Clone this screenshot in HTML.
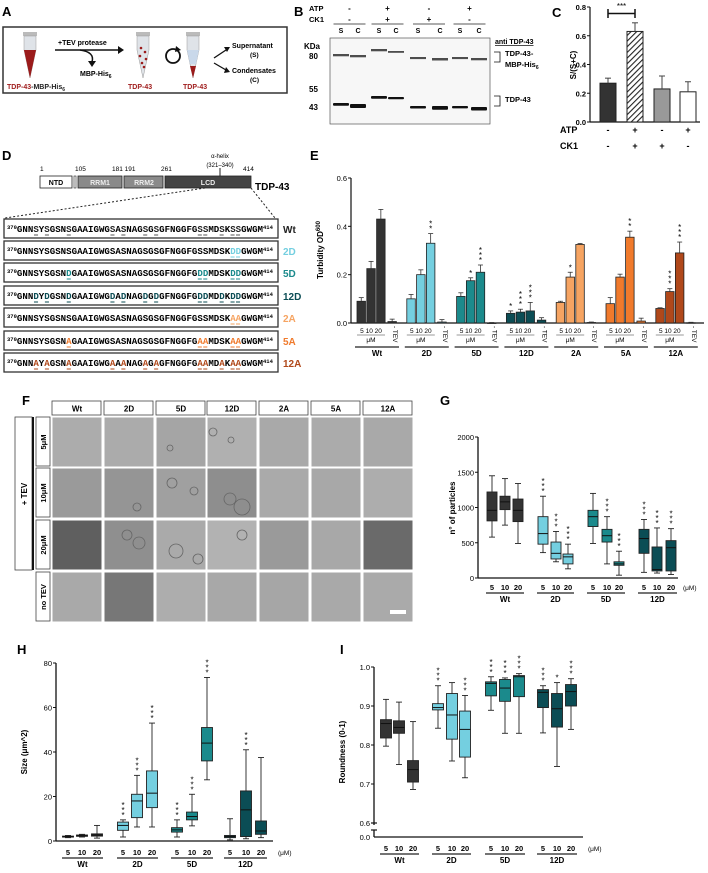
<!DOCTYPE html>
<html><head><meta charset="utf-8">
<style>
html,body{margin:0;padding:0;background:#fff;}
svg{display:block;font-family:"Liberation Sans",Arial,sans-serif;}
</style></head>
<body>
<svg id="fig" width="708" height="873" viewBox="0 0 708 873" xmlns="http://www.w3.org/2000/svg">
<!-- Panel A -->
<g>
<text x="2" y="16" font-size="13" font-weight="bold">A</text>
<rect x="3" y="27" width="284" height="66" fill="#fff" stroke="#333" stroke-width="1.5"/>
<g><rect x="23" y="32" width="14" height="4" fill="#bbb"/><path d="M24 36 L36 36 L36 50 L30 78 L24 50 Z" fill="#dfe3e8" stroke="#999" stroke-width="0.5"/><path d="M24 50 L36 50 L30 78 Z" fill="#9b1b1b"/></g>
<text x="7" y="89" font-size="7" fill="#a01e1e" font-weight="bold">TDP-43<tspan fill="#222">-MBP-His</tspan><tspan fill="#222" font-size="5" dy="2">6</tspan></text>
<text x="58" y="45" font-size="7" font-weight="bold">+TEV protease</text>
<line x1="55" y1="50" x2="118" y2="50" stroke="#111" stroke-width="1.5"/><path d="M118 46 L124 50 L118 54Z" fill="#111"/>
<path d="M80 50 Q95 52 92 62" fill="none" stroke="#111" stroke-width="1.5"/><path d="M88 61 L92 67 L96 61Z" fill="#111"/>
<text x="80" y="76" font-size="7" font-weight="bold">MBP-His<tspan font-size="5" dy="2">6</tspan></text>
<g><rect x="136" y="32" width="14" height="4" fill="#bbb"/><path d="M137 36 L149 36 L149 50 L143 78 L137 50 Z" fill="#dfe3e8" stroke="#999" stroke-width="0.5"/><circle cx="141" cy="48" r="1.3" fill="#9b1b1b"/><circle cx="145" cy="52" r="1.3" fill="#9b1b1b"/><circle cx="140" cy="56" r="1.3" fill="#9b1b1b"/><circle cx="146" cy="59" r="1.3" fill="#9b1b1b"/><circle cx="142" cy="63" r="1.3" fill="#9b1b1b"/><circle cx="144" cy="67" r="1.3" fill="#9b1b1b"/></g>
<text x="128" y="89" font-size="7" fill="#a01e1e" font-weight="bold">TDP-43</text>
<circle cx="173" cy="56" r="7" fill="none" stroke="#111" stroke-width="1.8"/><path d="M176 46 L181 50 L175 52Z" fill="#111"/>
<g><rect x="186" y="32" width="14" height="4" fill="#bbb"/><path d="M187 36 L199 36 L199 50 L193 78 L187 50 Z" fill="#dfe3e8" stroke="#999" stroke-width="0.5"/><path d="M187 50 L199 50 L196 64 L190 64 Z" fill="#c9d8ea"/><path d="M190 66 L196 66 L193 78Z" fill="#9b1b1b"/></g>
<text x="183" y="89" font-size="7" fill="#a01e1e" font-weight="bold">TDP-43</text>
<line x1="214" y1="58" x2="226" y2="50" stroke="#111" stroke-width="1.3"/><path d="M224 47 L230 47 L227 52Z" fill="#111"/>
<line x1="214" y1="63" x2="226" y2="70" stroke="#111" stroke-width="1.3"/><path d="M224 73 L230 72 L226 67Z" fill="#111"/>
<text x="232" y="48" font-size="7" font-weight="bold">Supernatant</text><text x="250" y="57" font-size="6.5" font-weight="bold">(S)</text>
<text x="232" y="73" font-size="7" font-weight="bold">Condensates</text><text x="250" y="82" font-size="6.5" font-weight="bold">(C)</text>
</g>
<!-- Panel B -->
<g id="panelB">
<text x="294" y="16" font-size="13" font-weight="bold">B</text>
<text x="309" y="11" font-size="7.5" font-weight="bold">ATP</text>
<text x="309" y="22" font-size="7.5" font-weight="bold">CK1</text>
<rect x="330" y="38" width="160" height="86" fill="#f7f7f7" stroke="#555" stroke-width="0.7"/>
<text x="304" y="49" font-size="8" font-weight="bold">KDa</text>
<text x="309" y="59" font-size="8" font-weight="bold">80</text>
<text x="309" y="92" font-size="8" font-weight="bold">55</text>
<text x="309" y="110" font-size="8" font-weight="bold">43</text>
<text x="495" y="44" font-size="7" font-weight="bold" text-decoration="underline">anti TDP-43</text>
<text x="505" y="56" font-size="7.5" font-weight="bold">TDP-43-</text>
<text x="505" y="67" font-size="7.5" font-weight="bold">MBP-His<tspan font-size="5" dy="2">6</tspan></text>
<path d="M494 52 L500 52 L500 62 L494 62" fill="none" stroke="#111" stroke-width="0.8"/>
<text x="505" y="102" font-size="7.5" font-weight="bold">TDP-43</text>
<path d="M494 96 L500 96 L500 106 L494 106" fill="none" stroke="#111" stroke-width="0.8"/>
</g>
<!-- Panel C -->
<g id="panelC">
<text x="552" y="17" font-size="13" font-weight="bold">C</text>
<text transform="translate(576,65) rotate(-90)" font-size="8" font-weight="bold" text-anchor="middle">S/(S+C)</text>
</g>
<!-- Panel D -->
<g id="panelD">
<text x="2" y="160" font-size="13" font-weight="bold">D</text>
<text x="40" y="171" font-size="6.5">1</text><text x="75" y="171" font-size="6.5">105</text><text x="112" y="171" font-size="6.5">181 191</text><text x="161" y="171" font-size="6.5">261</text><text x="243" y="171" font-size="6.5">414</text>
<text x="220" y="158" font-size="6" text-anchor="middle">α-helix</text><text x="220" y="167" font-size="6" text-anchor="middle">(321–340)</text>
<line x1="220" y1="168" x2="220" y2="176" stroke="#222"/>
<rect x="40" y="176" width="32" height="12" fill="#fff" stroke="#222" stroke-width="0.8"/>
<text x="56" y="185" font-size="7" font-weight="bold" text-anchor="middle">NTD</text>
<rect x="74" y="176" width="2" height="12" fill="#fff" stroke="#222" stroke-width="0.6"/>
<rect x="78" y="176" width="44" height="12" fill="#8a8a8a" stroke="#222" stroke-width="0.8"/>
<text x="100" y="185" font-size="7" font-weight="bold" fill="#eee" text-anchor="middle">RRM1</text>
<rect x="124" y="176" width="39" height="12" fill="#8a8a8a" stroke="#222" stroke-width="0.8"/>
<text x="144" y="185" font-size="7" font-weight="bold" fill="#eee" text-anchor="middle">RRM2</text>
<rect x="165" y="176" width="86" height="12" fill="#444" stroke="#222" stroke-width="0.8"/>
<text x="208" y="185" font-size="7" font-weight="bold" fill="#eee" text-anchor="middle">LCD</text>
<text x="255" y="190" font-size="10" font-weight="bold">TDP-43</text>
<line x1="205" y1="188" x2="5" y2="218" stroke="#222" stroke-dasharray="2,2"/>
<line x1="251" y1="188" x2="275" y2="218" stroke="#222" stroke-dasharray="2,2"/>
</g>
<!-- Panel E -->
<g id="panelE">
<text x="310" y="160" font-size="13" font-weight="bold">E</text>
<text transform="translate(323,250) rotate(-90)" font-size="8" font-weight="bold" text-anchor="middle">Turbidity OD<tspan font-size="6" dy="-3">600</tspan></text>
</g>
<!-- Panel F -->
<g id="panelF">
<text x="22" y="405" font-size="13" font-weight="bold">F</text>
<rect x="15" y="417" width="17" height="153" fill="#fff" stroke="#444" stroke-width="0.8"/>
<line x1="33" y1="417" x2="33" y2="570" stroke="#111" stroke-width="2"/>
<text transform="translate(27,494) rotate(-90)" font-size="8" font-weight="bold" text-anchor="middle">+ TEV</text>
</g>
<!-- Panels G/H/I -->
<g id="panelG">
<text x="440" y="405" font-size="13" font-weight="bold">G</text>
<text transform="translate(455,508) rotate(-90)" font-size="8" font-weight="bold" text-anchor="middle">n° of particles</text>
</g>
<g id="panelH">
<text x="17" y="654" font-size="13" font-weight="bold">H</text>
<text transform="translate(27,752) rotate(-90)" font-size="8" font-weight="bold" text-anchor="middle">Size (μm^2)</text>
</g>
<g id="panelI">
<text x="340" y="654" font-size="13" font-weight="bold">I</text>
<text transform="translate(345,752) rotate(-90)" font-size="8" font-weight="bold" text-anchor="middle">Roundness (0-1)</text>
</g>
</svg>
<script>
// ---------- data ----------
const cLabels=['ATP','CK1'];
const cValues=[0.27,0.63,0.23,0.21];
const cErrors=[0.035,0.06,0.09,0.07];
const cATP=['-','+','-','+'];
const cCK1=['-','+','+','-'];
const eGroups=['Wt','2D','5D','12D','2A','5A','12A'];
const eC5=[0.09,0.10,0.11,0.04,0.085,0.08,0.06];
const eC10=[0.225,0.20,0.175,0.045,0.19,0.19,0.13];
const eC20=[0.43,0.33,0.21,0.05,0.325,0.355,0.29];
const eTEV=[0.006,0.004,0.0,0.012,0.002,0.008,0.001];
const eErr5=[0.015,0.018,0.015,0.01,0.005,0.025,0.003];
const eErr10=[0.03,0.02,0.012,0.012,0.02,0.012,0.012];
const eErr20=[0.04,0.04,0.03,0.035,0.004,0.025,0.045];
const eStars5=['','','','*','','',''];
const eStars10=['','','*','***','*','','***'];
const eStars20=['','**','***','***','','**','***'];
const eTicks=[0,0.2,0.4,0.6];
const bpGroups=['Wt','2D','5D','12D'];
const bpConc=['5','10','20'];
// [min,q1,median,q3,max]
const gData=[[580,810,960,1220,1450],[750,970,1080,1160,1410],[490,800,960,1120,1340],
[360,480,630,870,1160],[230,270,350,510,660],[130,200,300,340,480],
[490,730,870,960,1200],[200,510,600,690,870],[40,180,200,230,380],
[80,350,560,690,830],[70,100,120,440,710],[50,100,430,530,700]];
const gStars=['','','','***','***','***','','***','***','***','***','***'];
const gTicks=[0,500,1000,1500,2000];
const hData=[[1.5,1.8,2,2.2,2.5],[1.8,2.1,2.4,2.7,3],[1.3,2.2,2.7,3.2,7],
[1.8,4.8,7,8.5,9.5],[6.3,10.5,18,21,29.5],[6.3,15,21.5,31.5,53],
[1.8,4,5,6,9.5],[6.8,9.5,11,13,21],[27.5,36,44,51,73.5],
[0.5,1.5,2,2.5,10],[1,2,14,22.5,41],[1.5,3,4.5,9,37.5]];
const hStars=['','','','***','***','***','***','***','***','','***',''];
const hTicks=[0,20,40,60,80];
const iData=[[.797,.818,.855,.865,.917],[.75,.83,.845,.862,.91],[.686,.705,.737,.76,.86],
[.843,.89,.896,.906,.952],[.759,.815,.877,.932,.96],[.716,.769,.84,.887,.927],
[.889,.926,.958,.962,.975],[.83,.912,.946,.968,.972],[.83,.924,.975,.978,.983],
[.831,.896,.935,.942,.952],[.745,.846,.893,.932,.96],[.84,.9,.937,.955,.97]];
const iStars=['','','','***','','***','***','***','***','***','*','***'];
const iTicks=[0.6,0.7,0.8,0.9,1.0];
const fCols=['Wt','2D','5D','12D','2A','5A','12A'];
const fRows=['5μM','10μM','20μM','no TEV'];
const fShade=[['#acacac','#ababab','#a5a5a5','#b0b0b0','#a9a9a9','#ababab','#a9a9a9'],
['#9a9a9a','#959595','#a0a0a0','#8e8e8e','#aaaaaa','#a8a8a8','#adadad'],
['#5f5f5f','#8f8f8f','#aaaaaa','#b2b2b2','#9a9a9a','#a8a8a8','#6a6a6a'],
['#a9a9a9','#777777','#adadad','#a8a8a8','#a6a6a6','#a9a9a9','#aaaaaa']];
const seqWt='GNNSYSGSNSGAAIGWGSASNAGSGSGFNGGFGSSMDSKSSGWGM';
const seqNames=['Wt','2D','5D','12D','2A','5A','12A'];
const seqSites=[[373,375,379,387,389,393,395,403,404,407,409,410],[409,410],[379,403,404,409,410],
[373,375,379,387,389,393,395,403,404,407,409,410],[409,410],[379,403,404,409,410],[373,375,379,387,389,393,395,403,404,407,409,410]];
const seqMutChar=['S','D','D','D','A','A','A'];

// ---------- helpers ----------
const NS='http://www.w3.org/2000/svg';
const svg=document.getElementById('fig');
function mk(tag,attrs,parent){const e=document.createElementNS(NS,tag);for(const k in attrs)e.setAttribute(k,attrs[k]);(parent||svg).appendChild(e);return e;}
function txt(x,y,s,size,parent,extra){const t=mk('text',Object.assign({x:x,y:y,'font-size':size},extra||{}),parent);t.textContent=s;return t;}
const groupColors={'Wt':'#333333','2D':'#74cfe0','5D':'#1b8a8c','12D':'#0b4d55','2A':'#f6a462','5A':'#f07a2c','12A':'#b0481a'};
function stars(x,yTop,s,parent){for(let k=0;k<s.length;k++){const t=txt(x,yTop-k*5,'*',8,parent,{'text-anchor':'middle'});}}

// ---------- Panel B blot ----------
(function(){
 const g=document.getElementById('panelB');
 const lanes=[341,358,379,396,418,440,460,479];
 const sc=['S','C','S','C','S','C','S','C'];
 const atp=['-','+','-','+'], ck=['-','+','+','-'];
 for(let i=0;i<4;i++){
  const cx=(lanes[2*i]+lanes[2*i+1])/2;
  txt(cx,11,atp[i],8,g,{'text-anchor':'middle','font-weight':'bold'});
  txt(cx,22,ck[i],8,g,{'text-anchor':'middle','font-weight':'bold'});
  mk('line',{x1:cx-16,y1:24,x2:cx+16,y2:24,stroke:'#222','stroke-width':0.8},g);
 }
 lanes.forEach((x,i)=>{txt(x,33,sc[i],7,g,{'text-anchor':'middle','font-weight':'bold'});});
 const upY=[55,56,50,52,58,59,58,59], upW=[0.8,0.8,0.8,0.3,0.6,1,0.6,0.8];
 const loY=[104,105,97,98,107,107,107,108], loW=[1.2,2.5,1.2,0.8,1,2.2,0.9,2];
 lanes.forEach((x,i)=>{
  const b1=mk('rect',{x:x-8,y:upY[i]-1,width:16,height:1.5+upW[i],fill:'#222',opacity:0.8},g);
  
  const b2=mk('rect',{x:x-8,y:loY[i]-1,width:16,height:1.5+loW[i],fill:'#111',rx:1},g);
  
 });
})();

// ---------- Panel C ----------
(function(){
 const g=document.getElementById('panelC');
 const x0=590,yB=122,yT=7,max=0.8;
 const y=v=>yB-(v/max)*(yB-yT);
 mk('line',{x1:x0,y1:yT,x2:x0,y2:yB,stroke:'#111','stroke-width':1.2},g);
 mk('line',{x1:x0,y1:yB,x2:700,y2:yB,stroke:'#111','stroke-width':1.2},g);
 [0,0.2,0.4,0.6,0.8].forEach(t=>{mk('line',{x1:x0-3,y1:y(t),x2:x0,y2:y(t),stroke:'#111'},g);txt(x0-4,y(t)+3,t.toFixed(1),7.5,g,{'text-anchor':'end','font-weight':'bold'});});
 const xs=[608,635,662,688];
 const fills=['#333','url(#hatch)','#999','#fff'];
 const defs=mk('defs',{},svg);
 const p=mk('pattern',{id:'hatch',width:4,height:4,patternUnits:'userSpaceOnUse',patternTransform:'rotate(45)'},defs);
 mk('rect',{width:4,height:4,fill:'#fff'},p);mk('line',{x1:0,y1:0,x2:0,y2:4,stroke:'#222','stroke-width':2.2},p);
 cValues.forEach((v,i)=>{
  const b=mk('rect',{x:xs[i]-8,y:y(v),width:16,height:yB-y(v),fill:fills[i],stroke:'#222','stroke-width':1},g);
  
  mk('line',{x1:xs[i],y1:y(v),x2:xs[i],y2:y(v+cErrors[i]),stroke:'#444'},g);
  mk('line',{x1:xs[i]-3,y1:y(v+cErrors[i]),x2:xs[i]+3,y2:y(v+cErrors[i]),stroke:'#444'},g);
  txt(xs[i],133,cATP[i],9,g,{'text-anchor':'middle','font-weight':'bold'});
  txt(xs[i],149,cCK1[i],9,g,{'text-anchor':'middle','font-weight':'bold'});
 });
 txt(560,133,cLabels[0],9,g,{'font-weight':'bold'});txt(560,149,cLabels[1],9,g,{'font-weight':'bold'});
 mk('path',{d:`M${xs[0]} 9 L${xs[0]} 18 M${xs[0]} 13.5 L${xs[1]} 13.5 M${xs[1]} 9 L${xs[1]} 18`,stroke:'#111','stroke-width':1.5,fill:'none'},g);
 txt((xs[0]+xs[1])/2,9,'***',8,g,{'text-anchor':'middle'});
})();

// ---------- Panel D sequences ----------
(function(){
 const g=document.getElementById('panelD');
 const tops=[219,241,263,286,308,331,353];
 const mutColor={'Wt':'#555','2D':'#74cfe0','5D':'#1b8a8c','12D':'#0b4d55','2A':'#f6a462','5A':'#f07a2c','12A':'#b0481a'};
 const fs=9.1, cw=fs*0.6, supW=5.5*0.6*3;
 seqNames.forEach((nm,i)=>{
  const r=mk('rect',{x:4,y:tops[i],width:274,height:19,fill:'#fff',stroke:'#333','stroke-width':1.3},g);
  
  const t=mk('text',{x:7,y:tops[i]+13,'font-size':fs,'font-family':'"Liberation Mono",monospace','font-weight':'bold'},g);
  const sup=mk('tspan',{'font-size':5.5,dy:-3},t);sup.textContent='370';
  for(let k=0;k<seqWt.length;k++){
   const pos=370+k;const mut=seqSites[i].includes(pos);
   const ts=mk('tspan',mut?{fill:nm==='Wt'?'#222':mutColor[nm]}:{},t);
   if(k===0)ts.setAttribute('dy',3);
   ts.textContent=mut?seqMutChar[i]:seqWt[k];
  }
  const sup2=mk('tspan',{'font-size':5.5,dy:-3},t);sup2.textContent='414';
  const x0=7+supW;
  seqSites[i].forEach(pos=>{const k=pos-370;mk('line',{x1:x0+k*cw+0.7,y1:tops[i]+16,x2:x0+(k+1)*cw-0.7,y2:tops[i]+16,stroke:mutColor[nm],'stroke-width':1},g);});
  txt(283,tops[i]+14,nm,10,g,{'font-weight':'bold',fill:nm==='Wt'?'#222':mutColor[nm]});
 });
})();

// ---------- Panel E ----------
(function(){
 const g=document.getElementById('panelE');
 const x0=351,yB=323,yT=178,max=0.6;
 const y=v=>yB-(v/max)*(yB-yT);
 mk('line',{x1:x0,y1:yT,x2:x0,y2:yB,stroke:'#111','stroke-width':1.2},g);
 mk('line',{x1:x0,y1:yB,x2:704,y2:yB,stroke:'#111','stroke-width':1.2},g);
 eTicks.forEach(t=>{mk('line',{x1:x0-3,y1:y(t),x2:x0,y2:y(t),stroke:'#111'},g);txt(x0-4,y(t)+3,t.toFixed(1),7.5,g,{'text-anchor':'end'});});
 const series=[eC5,eC10,eC20,eTEV], errs=[eErr5,eErr10,eErr20,[0.01,0.01,0.002,0.01,0.002,0.012,0.002]], st=[eStars5,eStars10,eStars20,null];
 eGroups.forEach((gn,i)=>{
  const gx=357+i*49.8;
  series.forEach((s,j)=>{
   const bx=gx+j*9.8+(j===3?1.5:0), v=s[i];
   const b=mk('rect',{x:bx,y:y(v),width:8.5,height:Math.max(0.5,yB-y(v)),fill:groupColors[gn],stroke:'#222','stroke-width':0.8},g);
   
   const e=errs[j][i];const cx=bx+4.25;
   mk('line',{x1:cx,y1:y(v),x2:cx,y2:y(v+e),stroke:'#333','stroke-width':0.8},g);
   mk('line',{x1:cx-2.5,y1:y(v+e),x2:cx+2.5,y2:y(v+e),stroke:'#333','stroke-width':0.8},g);
   if(st[j]&&st[j][i])stars(cx,y(v+e)-2,st[j][i],g);
  });
  txt(gx+14,333,'5 10 20',6.5,g,{'text-anchor':'middle'});
  mk('line',{x1:gx,y1:335,x2:gx+28,y2:335,stroke:'#777','stroke-width':0.8},g);
  txt(gx+14,342,'μM',6.5,g,{'text-anchor':'middle'});
  txt(0,0,'- TEV',6.5,g,{transform:`translate(${gx+36},326) rotate(90)`});
  mk('line',{x1:gx-2,y1:347,x2:gx+42,y2:347,stroke:'#222','stroke-width':1.2},g);
  txt(gx+20,356,gn,8,g,{'text-anchor':'middle','font-weight':'bold'});
 });
})();

// ---------- Panel F ----------
(function(){
 const g=document.getElementById('panelF');
 const colX=[52,104,156,207,259,311,363], cw=50;
 const rowY=[417,468,520,572], rh=50;
 fCols.forEach((c,i)=>{
  const r=mk('rect',{x:colX[i],y:401,width:cw-1,height:14,fill:'#fff',stroke:'#444','stroke-width':0.8},g);
  
  txt(colX[i]+cw/2,411.5,c,8,g,{'text-anchor':'middle','font-weight':'bold'});
 });
 fRows.forEach((rname,j)=>{
  const r=mk('rect',{x:36,y:rowY[j],width:14,height:rh-1,fill:'#fff',stroke:'#444','stroke-width':0.8},g);
  
  txt(0,0,rname,7.5,g,{'text-anchor':'middle','font-weight':'bold',transform:`translate(46,${rowY[j]+rh/2}) rotate(-90)`});
  fCols.forEach((c,i)=>{
   const cell=mk('rect',{x:colX[i],y:rowY[j],width:cw,height:rh,fill:fShade[j][i],stroke:'#fff','stroke-width':1},g);
   
  });
 });
 const drops=[[3,0,6,4],[3,0,20,3],[3,1,15,6],[3,1,35,8],[2,1,12,5],[2,1,30,4],[2,2,20,7],[2,2,38,5],[1,2,15,5],[1,2,35,6],[2,0,10,3],[1,1,25,4],[3,2,35,5]];
 drops.forEach((d,k)=>{const [ci,ri,o,r]=d;mk('circle',{cx:colX[ci]+o+(k%3)*4,cy:rowY[ri]+15+(k%4)*8,r:r,fill:'none',stroke:'#666','stroke-width':0.8},g);});
 mk('rect',{x:390,y:610,width:16,height:4,fill:'#fff'},g);
})();

// ---------- Box plots ----------
function boxPlot(cfg){
 const g=document.getElementById(cfg.id);
 const y=v=>cfg.yB-(v-cfg.vmin)/(cfg.vmax-cfg.vmin)*(cfg.yB-cfg.yT);
 mk('line',{x1:cfg.x0,y1:cfg.yT,x2:cfg.x0,y2:cfg.axisBottom,stroke:'#111','stroke-width':1.3},g);
 mk('line',{x1:cfg.x0,y1:cfg.axisBottom,x2:cfg.xEnd,y2:cfg.axisBottom,stroke:'#111','stroke-width':1.3},g);
 cfg.ticks.forEach(t=>{mk('line',{x1:cfg.x0-3,y1:y(t),x2:cfg.x0,y2:y(t),stroke:'#111','stroke-width':1},g);txt(cfg.x0-4,y(t)+3,cfg.fmt(t),7.5,g,{'text-anchor':'end'});});
 cfg.data.forEach((d,k)=>{
  const gi=Math.floor(k/3), gn=bpGroups[gi], cx=cfg.xs[k], w=cfg.w;
  mk('line',{x1:cx,y1:y(d[0]),x2:cx,y2:y(d[4]),stroke:'#222','stroke-width':0.9},g);
  mk('line',{x1:cx-3,y1:y(d[0]),x2:cx+3,y2:y(d[0]),stroke:'#222','stroke-width':0.9},g);
  mk('line',{x1:cx-3,y1:y(d[4]),x2:cx+3,y2:y(d[4]),stroke:'#222','stroke-width':0.9},g);
  const b=mk('rect',{x:cx-w/2,y:y(d[3]),width:w,height:Math.max(1,y(d[1])-y(d[3])),fill:groupColors[gn],stroke:'#222','stroke-width':0.9},g);
  
  mk('line',{x1:cx-w/2,y1:y(d[2]),x2:cx+w/2,y2:y(d[2]),stroke:'#111','stroke-width':1},g);
  if(cfg.stars[k])stars(cx,y(d[4])-2,cfg.stars[k],g);
  txt(cx,cfg.labY,bpConc[k%3],7.5,g,{'text-anchor':'middle','font-weight':'bold'});
 });
 for(let gi=0;gi<4;gi++){const a=cfg.xs[gi*3]-6,b=cfg.xs[gi*3+2]+6;mk('line',{x1:a,y1:cfg.labY+3,x2:b,y2:cfg.labY+3,stroke:'#222','stroke-width':1.2},g);txt((a+b)/2,cfg.labY+12,bpGroups[gi],8,g,{'text-anchor':'middle','font-weight':'bold'});}
 txt(cfg.xEnd+5,cfg.labY,'(μM)',6.5,g,{});
 return y;
}
boxPlot({id:'panelG',x0:478,xEnd:678,yT:437,yB:578,axisBottom:578,vmin:0,vmax:2000,ticks:gTicks,fmt:t=>String(t),data:gData,stars:gStars,w:10,
 xs:[492,505,518,543,556,568,593,607,619,644,657,671],labY:590});
boxPlot({id:'panelH',x0:56,xEnd:273,yT:663,yB:841,axisBottom:841,vmin:0,vmax:80,ticks:hTicks,fmt:t=>String(t),data:hData,stars:hStars,w:11,
 xs:[68,82,97,123,137,152,177,192,207,230,246,261],labY:855});
boxPlot({id:'panelI',x0:374,xEnd:583,yT:667,yB:823,axisBottom:837,vmin:0.6,vmax:1.0,ticks:iTicks,fmt:t=>t.toFixed(1),data:iData,stars:iStars,w:11,
 xs:[386,399,413,438,452,465,491,505,519,543,557,571],labY:851});
(function(){const g=document.getElementById('panelI');
 mk('rect',{x:370,y:825,width:8,height:5,fill:'#fff'},g);
 mk('line',{x1:371,y1:830,x2:377,y2:830,stroke:'#111','stroke-width':1.2},g);
 mk('line',{x1:371,y1:823,x2:377,y2:823,stroke:'#111','stroke-width':1.2},g);
 txt(370,840,'0.0',7.5,g,{'text-anchor':'end'});})();
</script>
</body></html>
